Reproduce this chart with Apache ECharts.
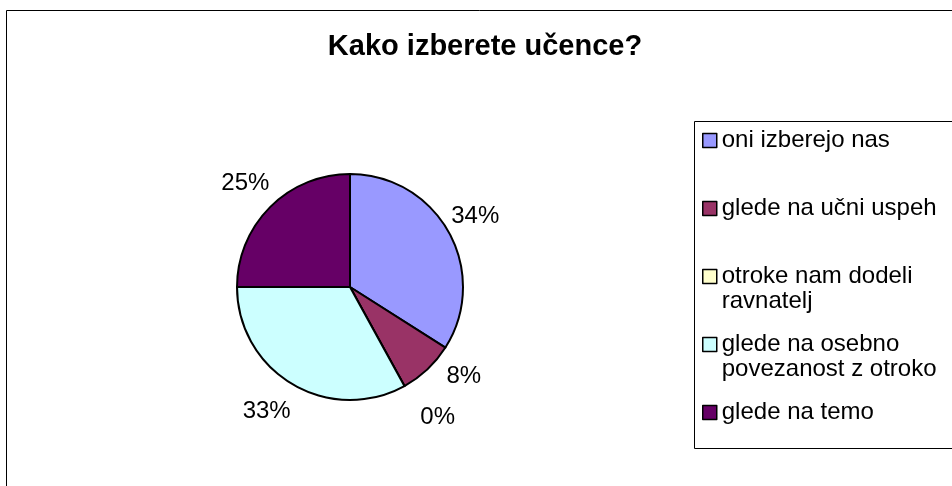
<!DOCTYPE html>
<html>
<head>
<meta charset="utf-8">
<script src="https://cdn.jsdelivr.net/npm/echarts@6/dist/echarts.min.js"></script>
<style>
  html, body { margin: 0; padding: 0; background: #fff; }
  #box { width: 952px; height: 486px; }
</style>
</head>
<body>
<div id="box"></div>
<script>
const titleText = 'Kako izberete učence?';
const categories = [
  'oni izberejo nas',
  'glede na učni uspeh',
  'otroke nam dodeli\nravnatelj',
  'glede na osebno\npovezanost z otroko',
  'glede na temo'
];
const percents = [34, 8, 0, 33, 25];
const colors = ['#9999FF', '#993366', '#FFFFCC', '#CCFFFF', '#660066'];

const font = 'Liberation Sans, Arial, sans-serif';
const lineH = 25;

const chartDom = document.getElementById('box');
const myChart = echarts.init(chartDom, null, { renderer: 'canvas' });

// small nudges so the labels sit like the excel ones (8% / 0% pushed apart)
const nudge = [[-7, 2], [10, -20], [15, -2], [-6, -5], [2, 3]];

const pieData = categories.map((name, i) => ({
  name: name,
  value: percents[i],
  itemStyle: { color: colors[i] }
}));

// one legend per entry, entries spaced evenly like excel does it
const legends = categories.map((name, i) => {
  const multi = name.indexOf('\n') >= 0;
  const cy = 140.5 + i * 68;
  return {
    orient: 'vertical',
    left: 702,
    top: multi ? cy - 1.5 * lineH : cy - lineH / 2,
    padding: 0,
    itemWidth: 14,
    itemHeight: 14,
    icon: 'rect',
    selectedMode: false,
    itemStyle: { borderColor: '#000', borderWidth: 1.5 },
    // empty first line keeps the icon next to the first text line
    formatter: n => (n.indexOf('\n') >= 0 ? '\n' + n : n),
    textStyle: {
      fontFamily: font,
      fontSize: 24,
      color: '#000',
      lineHeight: lineH
    },
    data: [name]
  };
});

var option = {
  animation: false,
  backgroundColor: '#fff',
  title: {
    text: titleText,
    left: 485,
    top: 32,
    padding: 0,
    textAlign: 'center',
    textStyle: {
      fontFamily: font,
      fontSize: 29,
      fontWeight: 'bold',
      color: '#000'
    }
  },
  legend: legends,
  graphic: [
    {
      type: 'rect',
      shape: { x: 6.5, y: 10.5, width: 1000, height: 1000 },
      style: { fill: 'none', stroke: '#000', lineWidth: 1 },
      z: -1
    },
    {
      type: 'rect',
      shape: { x: 694.5, y: 121.5, width: 400, height: 327 },
      style: { fill: 'none', stroke: '#000', lineWidth: 1 },
      z: -1
    }
  ],
  series: [
    {
      name: 'pie',
      type: 'pie',
      center: [350, 287],
      radius: 113,
      startAngle: 90,
      clockwise: true,
      avoidLabelOverlap: false,
      label: { show: false },
      labelLine: { show: false },
      emphasis: { disabled: true },
      itemStyle: { borderColor: '#000', borderWidth: 2 },
      data: pieData
    },
    {
      // label ring: same data, invisible sectors, labels centred at r ~ 148
      name: 'labels',
      type: 'pie',
      center: [350, 287],
      radius: [0, 296],
      startAngle: 90,
      clockwise: true,
      minAngle: 0.5,
      silent: true,
      z: 3,
      itemStyle: { color: 'transparent', borderWidth: 0 },
      emphasis: { disabled: true },
      labelLine: { show: false },
      label: {
        show: true,
        position: 'inside',
        formatter: p => p.value + '%',
        fontFamily: font,
        fontSize: 24,
        color: '#000'
      },
      data: categories.map((name, i) => ({
        name: name,
        value: percents[i],
        label: { offset: nudge[i] }
      }))
    }
  ]
};

option && myChart.setOption(option);
window.addEventListener('resize', function () {
  if (myChart) {
    myChart.resize();
  }
});
</script>
</body>
</html>
